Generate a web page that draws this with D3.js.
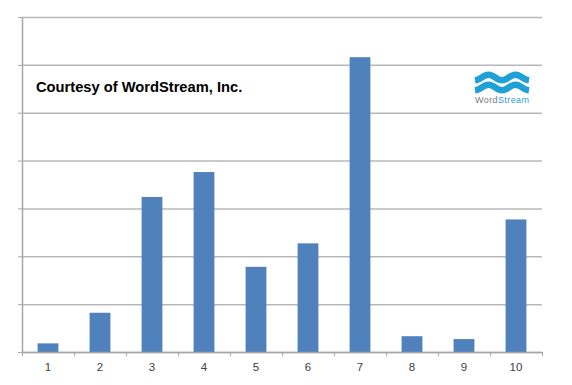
<!DOCTYPE html>
<html>
<head>
  <meta charset="UTF-8">
  <style>
    body { margin: 0; background: #fff; }
    text { font-family: "Liberation Sans", Arial, sans-serif; }
  </style>
  <title>Courtesy of WordStream</title>
</head>
<body>
  <script src="https://cdn.jsdelivr.net/npm/d3@7"></script>
  <script>
    // chart data
    var categories = ["1", "2", "3", "4", "5", "6", "7", "8", "9", "10"];
    var values = [0.18, 0.82, 3.24, 3.76, 1.78, 2.27, 6.16, 0.33, 0.27, 2.77];
    var gridTicks = [0, 1, 2, 3, 4, 5, 6, 7];

    var width = 572, height = 385;
    var plotLeft = 22, plotRight = 542, plotTop = 17, plotBottom = 352;

    var svg = d3.select("body").append("svg")
      .attr("width", width)
      .attr("height", height);

    // scales
    var x = d3.scaleBand().domain(categories).range([plotLeft, plotRight])
      .paddingInner(0.6).paddingOuter(0.3);
    var y = d3.scaleLinear().domain([0, 7]).range([plotBottom, plotTop]);
    var edges = d3.scaleLinear().domain([0, categories.length]).range([plotLeft, plotRight]);

    // gridlines
    svg.append("g")
      .attr("transform", "translate(" + plotLeft + ",0)")
      .call(d3.axisLeft(y).tickValues(gridTicks).tickSize(-(plotRight - plotLeft)).tickFormat(""))
      .call(function (g) {
        g.select(".domain").remove();
        g.selectAll("line").attr("stroke", "#b8b8b8").attr("stroke-width", 1.5);
      });

    // y axis with outer ticks
    svg.append("g")
      .attr("transform", "translate(" + plotLeft + ",0)")
      .call(d3.axisLeft(y).tickValues(gridTicks).tickSize(4).tickSizeOuter(0).tickFormat(""))
      .call(function (g) {
        g.select(".domain").attr("stroke", "#a6a6a6").attr("stroke-width", 1.5);
        g.selectAll("line").attr("stroke", "#a6a6a6");
      });

    // bars
    svg.append("g").selectAll("rect")
      .data(values)
      .enter().append("rect")
      .attr("x", function (d, i) { return x(categories[i]); })
      .attr("y", function (d) { return y(d); })
      .attr("width", x.bandwidth())
      .attr("height", function (d) { return y(0) - y(d); })
      .attr("fill", "#4f81bd");

    // x axis: ticks at category edges
    svg.append("g")
      .attr("transform", "translate(0," + plotBottom + ")")
      .call(d3.axisBottom(edges).tickValues(d3.range(categories.length + 1)).tickSize(4).tickSizeOuter(0).tickFormat(""))
      .call(function (g) {
        g.select(".domain").attr("stroke", "#a6a6a6").attr("stroke-width", 1.5);
        g.selectAll("line").attr("stroke", "#a6a6a6");
      });

    // x labels
    svg.append("g")
      .attr("transform", "translate(0," + plotBottom + ")")
      .call(d3.axisBottom(x).tickSize(0).tickPadding(11))
      .call(function (g) {
        g.select(".domain").remove();
        g.selectAll("text")
          .attr("font-family", "'Liberation Sans', Arial, sans-serif")
          .attr("font-size", 11.5)
          .attr("fill", "#404040");
      });

    // caption
    svg.append("text")
      .attr("x", 36)
      .attr("y", 92)
      .attr("font-size", 14.7)
      .attr("font-weight", "bold")
      .attr("fill", "#000")
      .text("Courtesy of WordStream, Inc.");

    // WordStream logo
    var logo = svg.append("g").attr("transform", "translate(475,73)");
    var wave = d3.line().curve(d3.curveBasis);
    [0, 10].forEach(function (off) {
      var pts = d3.range(0, 55, 2).map(function (t) {
        return [t, off + 4.5 + 2.8 * Math.cos(t / 54 * 4 * Math.PI)];
      });
      logo.append("path")
        .attr("d", wave(pts))
        .attr("fill", "none")
        .attr("stroke", "#1fa0d6")
        .attr("stroke-width", 6.5);
    });
    var brand = logo.append("text")
      .attr("x", 0)
      .attr("y", 29.5)
      .attr("font-size", 9)
      .attr("textLength", 54);
    brand.append("tspan").attr("fill", "#7a7a7a").text("Word");
    brand.append("tspan").attr("fill", "#1fa0d6").text("Stream");
  </script>
</body>
</html>
